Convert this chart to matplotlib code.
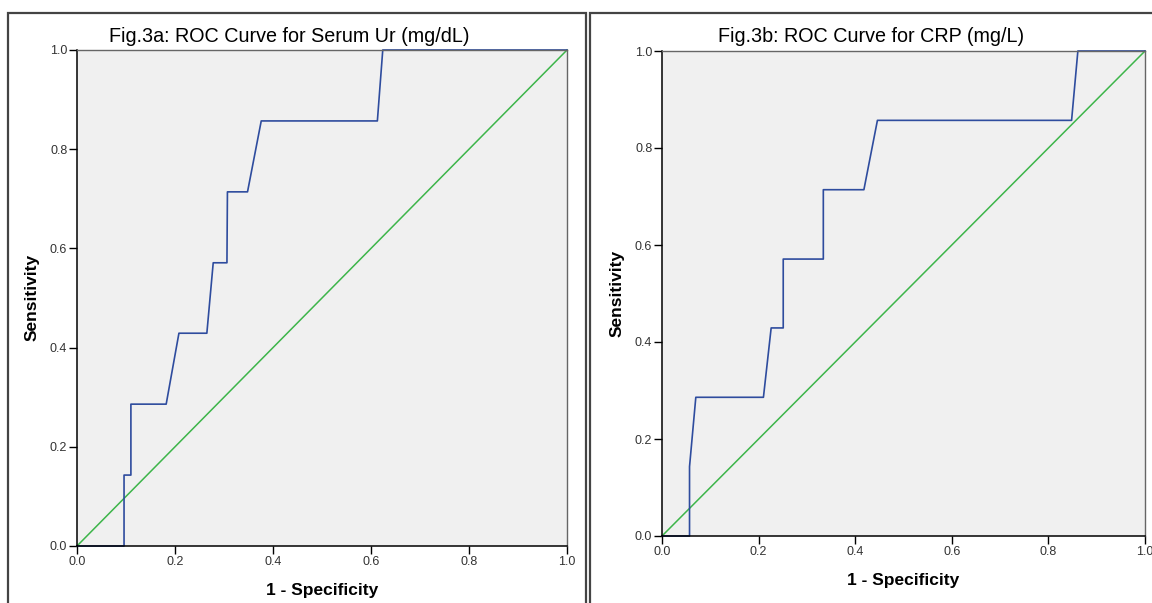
import matplotlib.pyplot as plt
from matplotlib.patches import Rectangle

plt.rcParams['font.family'] = ['Liberation Sans', 'DejaVu Sans']

# ROC points (1 - specificity, sensitivity)
ur_fpr = [0.0, 0.096, 0.096, 0.110, 0.110, 0.182, 0.208, 0.265, 0.278, 0.306, 0.307,
          0.348, 0.376, 0.613, 0.624, 1.0]
ur_tpr = [0.0, 0.0, 0.143, 0.143, 0.286, 0.286, 0.429, 0.429, 0.571, 0.571, 0.714,
          0.714, 0.857, 0.857, 1.0, 1.0]

crp_fpr = [0.0, 0.057, 0.057, 0.070, 0.210, 0.226, 0.251, 0.251, 0.334, 0.334,
           0.418, 0.446, 0.848, 0.861, 1.0]
crp_tpr = [0.0, 0.0, 0.143, 0.286, 0.286, 0.429, 0.429, 0.571, 0.571, 0.714,
           0.714, 0.857, 0.857, 1.0, 1.0]

ref_line = [0.0, 1.0]
ticks = [0.0, 0.2, 0.4, 0.6, 0.8, 1.0]
tick_labels = ['0.0', '0.2', '0.4', '0.6', '0.8', '1.0']

W, H = 1152, 603
fig = plt.figure(figsize=(W / 100, H / 100), dpi=100)

# panel frames
fig.patches.append(Rectangle((8 / W, -0.1), 578 / W, 1.1 - 13 / H, transform=fig.transFigure,
                             fill=False, edgecolor='#444444', linewidth=1.6))
fig.patches.append(Rectangle((590 / W, -0.1), 600 / W, 1.1 - 13 / H, transform=fig.transFigure,
                             fill=False, edgecolor='#444444', linewidth=1.6))

panels = [
    dict(rect=[77 / W, 1 - 546 / H, 490 / W, 496 / H], fpr=ur_fpr, tpr=ur_tpr,
         title='Fig.3a: ROC Curve for Serum Ur (mg/dL)', tx=289, ty=37,
         xl=(322, 590), yl=(32, 297)),
    dict(rect=[662 / W, 1 - 536 / H, 483 / W, 485 / H], fpr=crp_fpr, tpr=crp_tpr,
         title='Fig.3b: ROC Curve for CRP (mg/L)', tx=871, ty=37,
         xl=(903, 580), yl=(617, 293)),
]

for p in panels:
    ax = fig.add_axes(p['rect'])
    ax.set_facecolor('#F0F0F0')
    ax.plot(ref_line, ref_line, color='#3DB54A', linewidth=1.1, clip_on=False)
    ax.plot(p['fpr'], p['tpr'], color='#2E4C9E', linewidth=1.2, clip_on=False)
    ax.set_xlim(0, 1)
    ax.set_ylim(0, 1)
    ax.set_xticks(ticks)
    ax.set_xticklabels(tick_labels)
    ax.set_yticks(ticks)
    ax.set_yticklabels(tick_labels)
    ax.tick_params(direction='out', length=6, width=1, labelsize=9, colors='black',
                   labelcolor='#333333', pad=1)
    for side in ['left', 'bottom']:
        ax.spines[side].set_color('black')
        ax.spines[side].set_linewidth(1.1)
    for side in ['top', 'right']:
        ax.spines[side].set_color('#666666')
        ax.spines[side].set_linewidth(1.0)
    fig.text(p['tx'] / W, 1 - p['ty'] / H, p['title'], ha='center', va='center',
             fontsize=14.2, color='black')
    fig.text(p['xl'][0] / W, 1 - p['xl'][1] / H, '1 - Specificity', ha='center', va='center',
             fontsize=12.5, fontweight='bold')
    fig.text(p['yl'][0] / W, 1 - p['yl'][1] / H, 'Sensitivity', ha='center', va='center',
             fontsize=12.5, fontweight='bold', rotation=90)

fig.savefig('out.png', dpi=100, facecolor='white')
